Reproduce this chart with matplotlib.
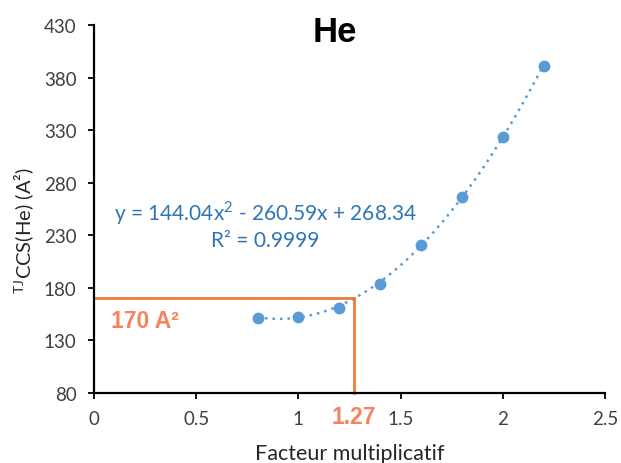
import numpy as np
import matplotlib
matplotlib.use("Agg")
import matplotlib.pyplot as plt

x_vals = [0.8, 1.0, 1.2, 1.4, 1.6, 1.8, 2.0, 2.2]
y_vals = [151.3, 152.3, 160.8, 183.7, 220.8, 266.4, 323.5, 391.0]
fit_coefs = [144.04, -260.59, 268.34]
x_ticks = [0, 0.5, 1, 1.5, 2, 2.5]
x_tick_labels = ["0", "0.5", "1", "1.5", "2", "2.5"]
y_ticks = [80, 130, 180, 230, 280, 330, 380, 430]
target_y = 170
target_x = 1.27

plt.rcParams['font.family'] = ['Lato', 'DejaVu Sans']
plt.rcParams['mathtext.fontset'] = 'custom'
plt.rcParams['mathtext.rm'] = 'Lato'

fig = plt.figure(figsize=(6.21, 4.64), dpi=100)
ax = fig.add_axes([94/621, 1-394/464, (605-94)/621, (394-26)/464])

def px_to_x(px):
    return (px - 94) / 511 * 2.5

def py_to_y(py):
    return 80 + (394 - py) / 368 * 350

blue = '#5B9BD5'
orange = '#ED7D31'
ax.plot(x_vals, y_vals, 'o', color=blue, markersize=7.5, zorder=3)
xf = np.linspace(min(x_vals), max(x_vals), 200)
yf = np.polyval(fit_coefs, xf)
ax.plot(xf, yf, linestyle=(0, (1, 2)), color=blue, linewidth=1.8, zorder=2)

ax.plot([0, target_x], [target_y, target_y], color=orange, linewidth=2, zorder=2, clip_on=False)
ax.plot([target_x, target_x], [80, target_y], color=orange, linewidth=2, zorder=2, clip_on=False)

ax.set_xlim(0, 2.5)
ax.set_ylim(80, 430)
ax.set_xticks(x_ticks)
ax.set_xticklabels(x_tick_labels)
ax.set_yticks(y_ticks)
for s in ['top', 'right']:
    ax.spines[s].set_visible(False)
for s in ['left', 'bottom']:
    ax.spines[s].set_linewidth(1.6)
ax.tick_params(axis='both', direction='out', length=4.5, width=1.3, labelsize=13.5,
               labelcolor='#404040', color='black')
ax.tick_params(axis='x', pad=8)
ax.tick_params(axis='y', pad=8)

ax.set_xlabel('Facteur multiplicatif', fontsize=15.5, color='#262626', labelpad=11)
ax.set_ylabel(r'$^{\mathrm{TJ}}$CCS(He) (A²)', fontsize=14.5, color='#262626')
ax.yaxis.set_label_coords(-0.112, (394 - 231) / 368)

fig.text(335/621, 1-33/464, 'He', fontsize=25, fontweight='bold', family='Liberation Sans',
         ha='center', va='center')

eq_color = '#2E75B6'
ax.text(px_to_x(265), py_to_y(213),
        r'y = 144.04x$^{2}$ - 260.59x + 268.34', color=eq_color, fontsize=15,
        ha='center', va='center')
ax.text(px_to_x(265), py_to_y(241), 'R² = 0.9999', color=eq_color,
        fontsize=15, ha='center', va='center')

salmon = '#F4845F'
ax.text(px_to_x(111), py_to_y(322), '170 A²', color=salmon, fontsize=16.5,
        fontweight='bold', family='Liberation Sans', ha='left', va='center')
ax.text(target_x, py_to_y(418), '1.27', color=salmon, fontsize=16.5,
        fontweight='bold', family='Liberation Sans', ha='center', va='center', clip_on=False)

fig.savefig('out.png', dpi=100)
